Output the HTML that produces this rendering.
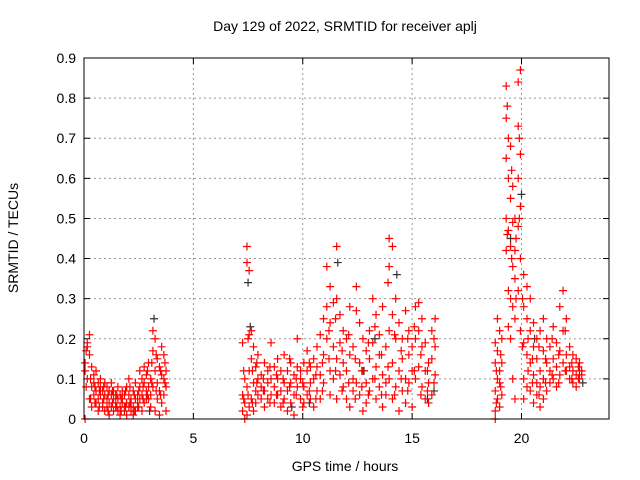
<!DOCTYPE html>
<html><head><meta charset="utf-8"><style>
html,body{margin:0;padding:0;background:#fff}
svg{display:block;font-family:"Liberation Sans",sans-serif}
</style></head><body>
<svg id="chart" width="640" height="480" xmlns="http://www.w3.org/2000/svg">
<rect width="640" height="480" fill="#fff"/>
<text x="345" y="31" font-size="14" text-anchor="middle">Day 129 of 2022, SRMTID for receiver aplj</text>
<text x="345" y="471" font-size="14" text-anchor="middle">GPS time / hours</text>
<text transform="translate(18,238) rotate(-90)" font-size="14" text-anchor="middle">SRMTID / TECUs</text>
<g id="grid"></g><g id="ticks"></g><g id="marks"></g>
<rect x="84" y="58" width="525" height="361" fill="none" stroke="#000" stroke-width="1"/>
</svg>
<script>
const xTicks=[0,5,10,15,20];
const yTicks=[0,0.1,0.2,0.3,0.4,0.5,0.6,0.7,0.8,0.9];
const yTickLabels=["0","0.1","0.2","0.3","0.4","0.5","0.6","0.7","0.8","0.9"];
const redHours=[0.05,0.15,0.25,0.35,0.45,0.55,0.65,0.75,0.85,0.95,1.05,1.15,1.25,1.35,1.45,1.55,1.65,1.75,1.85,1.95,2.05,2.15,2.25,2.35,2.45,2.55,2.65,2.75,2.85,2.95,3.05,3.15,3.25,3.35,3.45,3.55,3.65,3.75,
7.25,7.35,7.45,7.55,7.65,7.75,7.85,7.95,8.1,8.25,8.4,8.55,8.7,8.85,9.0,9.15,9.3,9.45,9.6,9.75,9.9,10.05,10.2,10.35,10.5,10.65,10.8,10.95,11.1,11.25,11.4,11.55,11.7,11.85,12.0,12.15,12.3,12.45,12.6,12.75,12.9,13.05,13.2,13.35,13.5,13.65,13.8,13.95,14.1,14.25,14.4,14.55,14.7,14.85,15.0,15.15,15.3,15.45,15.6,15.75,15.9,16.05,
18.8,18.9,19.0,19.1,19.3,19.4,19.5,19.6,19.7,19.85,19.95,20.1,20.25,20.4,20.55,20.7,20.85,21.0,21.15,21.3,21.45,21.6,21.75,21.9,22.05,22.2,22.35,22.5,22.65];
const redValues=[[0.0,0.14,0.12],[0.19,0.18,0.1],[0.21,0.16,0.05],[0.13,0.08,0.03],[0.11,0.06,0.09],[0.07,0.12,0.04],[0.09,0.05,0.02],[0.08,0.06,0.1],[0.04,0.07,0.03],[0.06,0.09,0.02],[0.05,0.08,0.03],[0.07,0.04,0.01],[0.06,0.03,0.09],[0.05,0.02,0.07],[0.04,0.06,0.03],[0.08,0.02,0.05],[0.03,0.06,0.01],[0.05,0.04,0.07],[0.02,0.06,0.03],[0.04,0.08,0.01],[0.06,0.03,0.1],[0.02,0.05,0.04],[0.07,0.01,0.03],[0.05,0.09,0.02],[0.03,0.06,0.04],[0.08,0.05,0.12],[0.06,0.1,0.02],[0.09,0.04,0.13],[0.07,0.11,0.05],[0.05,0.08,0.14],[0.1,0.06,0.03],[0.22,0.17,0.08],[0.2,0.12,0.02],[0.15,0.09,0.05],[0.13,0.07,0.01],[0.18,0.11,0.04],[0.16,0.1,0.06],[0.12,0.08,0.02],
[0.02,0.06,0.19],[0.0,0.04,0.1],[0.43,0.39,0.08,0.01],[0.37,0.21,0.12,0.03],[0.22,0.15,0.05],[0.18,0.09,0.02],[0.13,0.07,0.04],[0.16,0.1,0.06],[0.11,0.05,0.08],[0.14,0.07,0.03],[0.09,0.12,0.05],[0.19,0.06,0.1],[0.08,0.04,0.13],[0.1,0.15,0.06],[0.07,0.12,0.03],[0.16,0.09,0.05],[0.12,0.07,0.02],[0.09,0.14,0.04],[0.11,0.06,0.01],[0.2,0.13,0.08],[0.1,0.05,0.12],[0.14,0.08,0.04],[0.12,0.17,0.06],[0.09,0.13,0.05],[0.15,0.1,0.03],[0.13,0.07,0.18],[0.21,0.11,0.05],[0.25,0.16,0.09],[0.38,0.28,0.2],[0.33,0.24,0.12,0.06],[0.29,0.18,0.1],[0.43,0.3,0.15,0.05],[0.26,0.19,0.11],[0.22,0.14,0.08],[0.2,0.12,0.05],[0.28,0.16,0.03],[0.18,0.1,0.07],[0.33,0.27,0.09],[0.24,0.14,0.06],[0.2,0.12,0.02],[0.17,0.09,0.04],[0.22,0.15,0.07],[0.3,0.19,0.1],[0.26,0.13,0.05],[0.21,0.16,0.08],[0.28,0.11,0.03],[0.18,0.09,0.06],[0.45,0.38,0.22,0.1],[0.43,0.26,0.14,0.05],[0.3,0.2,0.08],[0.24,0.12,0.02],[0.2,0.15,0.07],[0.27,0.1,0.04],[0.22,0.16,0.09],[0.18,0.12,0.03],[0.28,0.2,0.1],[0.29,0.22,0.13],[0.25,0.18,0.08],[0.19,0.12,0.05],[0.14,0.09,0.04],[0.22,0.15,0.06],[0.25,0.18,0.11],
[0.0,0.02,0.07,0.14,0.19],[0.05,0.1,0.25,0.17],[0.12,0.03,0.22,0.09],[0.2,0.14,0.06],[0.83,0.75,0.65,0.5,0.42],[0.7,0.6,0.47,0.32,0.23],[0.68,0.55,0.43,0.3,0.2],[0.58,0.49,0.38,0.28,0.1],[0.5,0.42,0.35,0.25,0.05],[0.84,0.73,0.6,0.48,0.32],[0.87,0.66,0.53,0.4,0.22],[0.36,0.28,0.19,0.1,0.05],[0.33,0.25,0.16,0.08],[0.3,0.22,0.14,0.07],[0.24,0.18,0.11,0.04],[0.2,0.15,0.09,0.06],[0.22,0.12,0.08,0.03],[0.25,0.17,0.1,0.05],[0.2,0.14,0.07],[0.18,0.12,0.09],[0.23,0.15,0.1],[0.19,0.13,0.08],[0.28,0.17,0.11],[0.32,0.22,0.14],[0.25,0.16,0.12],[0.18,0.13,0.1],[0.16,0.12,0.09],[0.15,0.11,0.08],[0.14,0.12,0.1]];
const red2Hours=[0.1,0.3,0.5,0.7,0.9,1.1,1.3,1.5,1.7,1.9,2.1,2.3,2.5,2.7,2.9,3.1,3.3,3.5,3.7,
7.3,7.5,7.7,7.9,8.2,8.5,8.8,9.1,9.4,9.7,10.0,10.3,10.6,10.9,11.2,11.5,11.8,12.1,12.4,12.7,13.0,13.3,13.6,13.9,14.2,14.5,14.8,15.1,15.4,15.7,16.0,
18.85,19.05,19.35,19.55,19.75,19.9,20.05,20.3,20.5,20.8,21.1,21.4,21.7,22.0,22.3,22.6,22.75];
const red2Values=[[0.17,0.08],[0.1,0.05],[0.08,0.04],[0.07,0.03],[0.05,0.08],[0.06,0.02],[0.04,0.07],[0.06,0.03],[0.05,0.02],[0.07,0.03],[0.04,0.08],[0.06,0.02],[0.07,0.03],[0.08,0.05],[0.12,0.06],[0.14,0.09],[0.16,0.07],[0.12,0.06],[0.14,0.09],
[0.05,0.12],[0.2,0.06],[0.12,0.04],[0.09,0.14],[0.07,0.1],[0.13,0.04],[0.06,0.11],[0.1,0.04],[0.15,0.08],[0.06,0.1],[0.09,0.03],[0.07,0.14],[0.11,0.05],[0.14,0.07],[0.22,0.15],[0.25,0.12],[0.17,0.07],[0.21,0.09],[0.15,0.05],[0.12,0.08],[0.19,0.06],[0.23,0.1],[0.16,0.06],[0.34,0.13],[0.21,0.06],[0.17,0.1],[0.2,0.07],[0.23,0.12],[0.16,0.06],[0.12,0.07],[0.2,0.09],
[0.04,0.12],[0.08,0.16],[0.78,0.46],[0.62,0.4],[0.45,0.3],[0.7,0.5],[0.3,0.18],[0.2,0.12],[0.15,0.09],[0.18,0.06],[0.15,0.09],[0.2,0.11],[0.16,0.09],[0.22,0.12],[0.14,0.1],[0.13,0.1],[0.12,0.11]];
const blackHours=[3.2,7.5,7.6,11.6,13.3,14.3,19.5,20.0,20.6,22.8,10.3,15.7,3.0,9.5,12.8,16.0];
const blackValues=[0.25,0.34,0.23,0.39,0.2,0.36,0.45,0.56,0.2,0.09,0.04,0.05,0.02,0.03,0.12,0.07];

const X0=84,X1=609,Y0=419,Y1=58,XMAX=24,YMAX=0.9;
const xs=v=>X0+(v/XMAX)*(X1-X0);
const ys=v=>Y0-(v/YMAX)*(Y0-Y1);
const NS="http://www.w3.org/2000/svg";
const grid=document.getElementById('grid'),ticks=document.getElementById('ticks'),marks=document.getElementById('marks');
function mk(tag,attrs,parent){const e=document.createElementNS(NS,tag);for(const k in attrs)e.setAttribute(k,attrs[k]);parent.appendChild(e);return e;}
xTicks.forEach((t,i)=>{
  const x=xs(t);
  if(t>0){const g=mk('line',{x1:x,x2:x,y1:Y1,y2:Y0,stroke:'#999','stroke-dasharray':'2,3'},grid);
  
  }
  const tk=mk('path',{d:`M${x},${Y0}v-6M${x},${Y1}v6`,stroke:'#000'},ticks);
  
  
  const l=mk('text',{x:x,y:443,'font-size':14,'text-anchor':'middle'},ticks);l.textContent=String(t);
  
  
});
yTicks.forEach((t,i)=>{
  const y=ys(t);
  if(t>0&&t<YMAX){const g=mk('line',{x1:X0,x2:X1,y1:y,y2:y,stroke:'#999','stroke-dasharray':'2,3'},grid);
  
  }
  const tk=mk('path',{d:`M${X0},${y}h6M${X1},${y}h-6`,stroke:'#000'},ticks);
  
  
  const l=mk('text',{x:76,y:y+5,'font-size':14,'text-anchor':'end'},ticks);l.textContent=yTickLabels[i];
  
  
});
function plus(h,v,color,name){
  const x=xs(h),y=ys(v);
  const p=mk('path',{d:`M${x-4},${y}h8M${x},${y-4}v8`,stroke:color,'stroke-width':1.2},marks);
  
  
}
blackHours.forEach((h,i)=>plus(h,blackValues[i],'#333','black-point'));
redHours.forEach((h,i)=>redValues[i].forEach(v=>plus(h,v,'#f00','red-point')));
red2Hours.forEach((h,i)=>red2Values[i].forEach(v=>plus(h,v,'#f00','red-point')));
</script>
</body></html>
